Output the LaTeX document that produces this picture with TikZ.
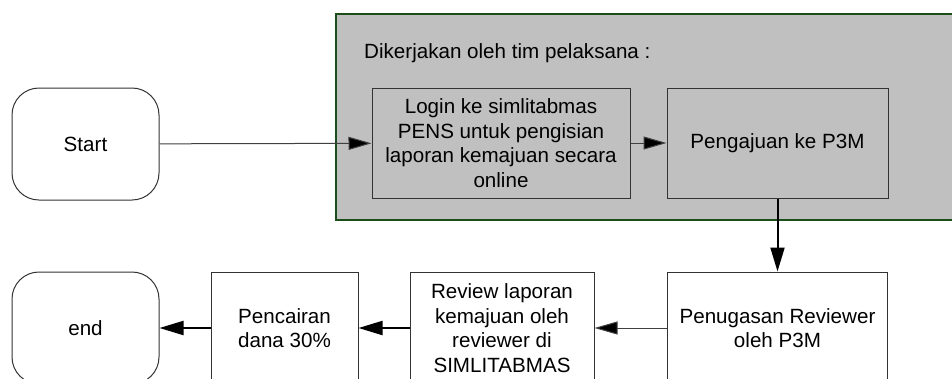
\documentclass[tikz,border=0pt]{standalone}
\usepackage{fontspec}
\setmainfont{Liberation Sans}
\usepackage{tikz}
\usetikzlibrary{calc}
\usetikzlibrary{shapes}
\usetikzlibrary{arrows.meta}
\definecolor{grpgreen}{RGB}{28,78,28}
\definecolor{grpgray}{RGB}{192,192,192}
\begin{document}
\begin{tikzpicture}[x = 1pt,y = -1pt]
            % Define styles - pixel units, y pointing down
            \tikzstyle{txt} = [font=\fontsize{20.6}{24.5}\selectfont,align=center,text=black]
            \tikzstyle{termbox} = [txt,draw=black!80,line width=1pt,fill=white,shape=rectangle,rounded corners=27pt,inner sep=0]
            \tikzstyle{procbox} = [txt,draw=black!80,line width=1pt,shape=rectangle,inner sep=0]
            \tikzstyle{thinarrow} = [line width=1pt,draw=black!75,-{Triangle[length=23pt,width=13pt,fill=black]}]
            \tikzstyle{thickarrow} = [line width=2pt,draw=black,-{Triangle[length=24pt,width=14pt,fill=black]}]
            \useasboundingbox (0,0) rectangle (952,378);
            \clip (0,0) rectangle (952,378);
            % Group of the team
            	\node (grp) at (648,117) [draw=grpgreen,line width=1.4pt,fill=grpgray,shape=rectangle,minimum width=624pt,minimum height=206pt,inner sep=0]{};
            	\node (grptitle) at (364,53) [txt,anchor=west,inner sep=0]{Dikerjakan oleh tim pelaksana :};
            % Top row
            	\node (start) at (85.5,144) [termbox,minimum width=147pt,minimum height=112pt]{Start};
            	\node (login) at (501,143) [procbox,fill=grpgray,minimum width=258pt,minimum height=110pt]{Login ke simlitabmas\\PENS untuk pengisian\\laporan kemajuan secara\\online};
            	\node (ajukan) at (777.5,143) [procbox,fill=grpgray,minimum width=221pt,minimum height=110pt]{Pengajuan ke P3M};
            % Bottom row
            	\node (tugas) at (777.5,328) [procbox,fill=white,minimum width=220pt,minimum height=112pt]{Penugasan Reviewer\\oleh P3M};
            	\node (review) at (502,328) [procbox,fill=white,minimum width=184pt,minimum height=112pt]{Review laporan\\kemajuan oleh\\reviewer di\\SIMLITABMAS};
            	\node (cair) at (284.5,328) [procbox,fill=white,minimum width=147pt,minimum height=112pt]{Pencairan\\dana 30\%};
            	\node (end) at (85.5,328) [termbox,minimum width=147pt,minimum height=112pt]{end};
            % Lines and arrows
                % Top row
                    \draw [thinarrow] (start) -- (login);
                    \draw [thinarrow] (login) -- (ajukan);
                % Down to reviewer assignment
                    \draw [thickarrow] (ajukan) -- (tugas);
                % Bottom row, right to left
                    \draw [thinarrow] (tugas) -- (review);
                    \draw [thickarrow] (review) -- (cair);
                    \draw [thickarrow] (cair) -- (end);
        \end{tikzpicture}
\end{document}
